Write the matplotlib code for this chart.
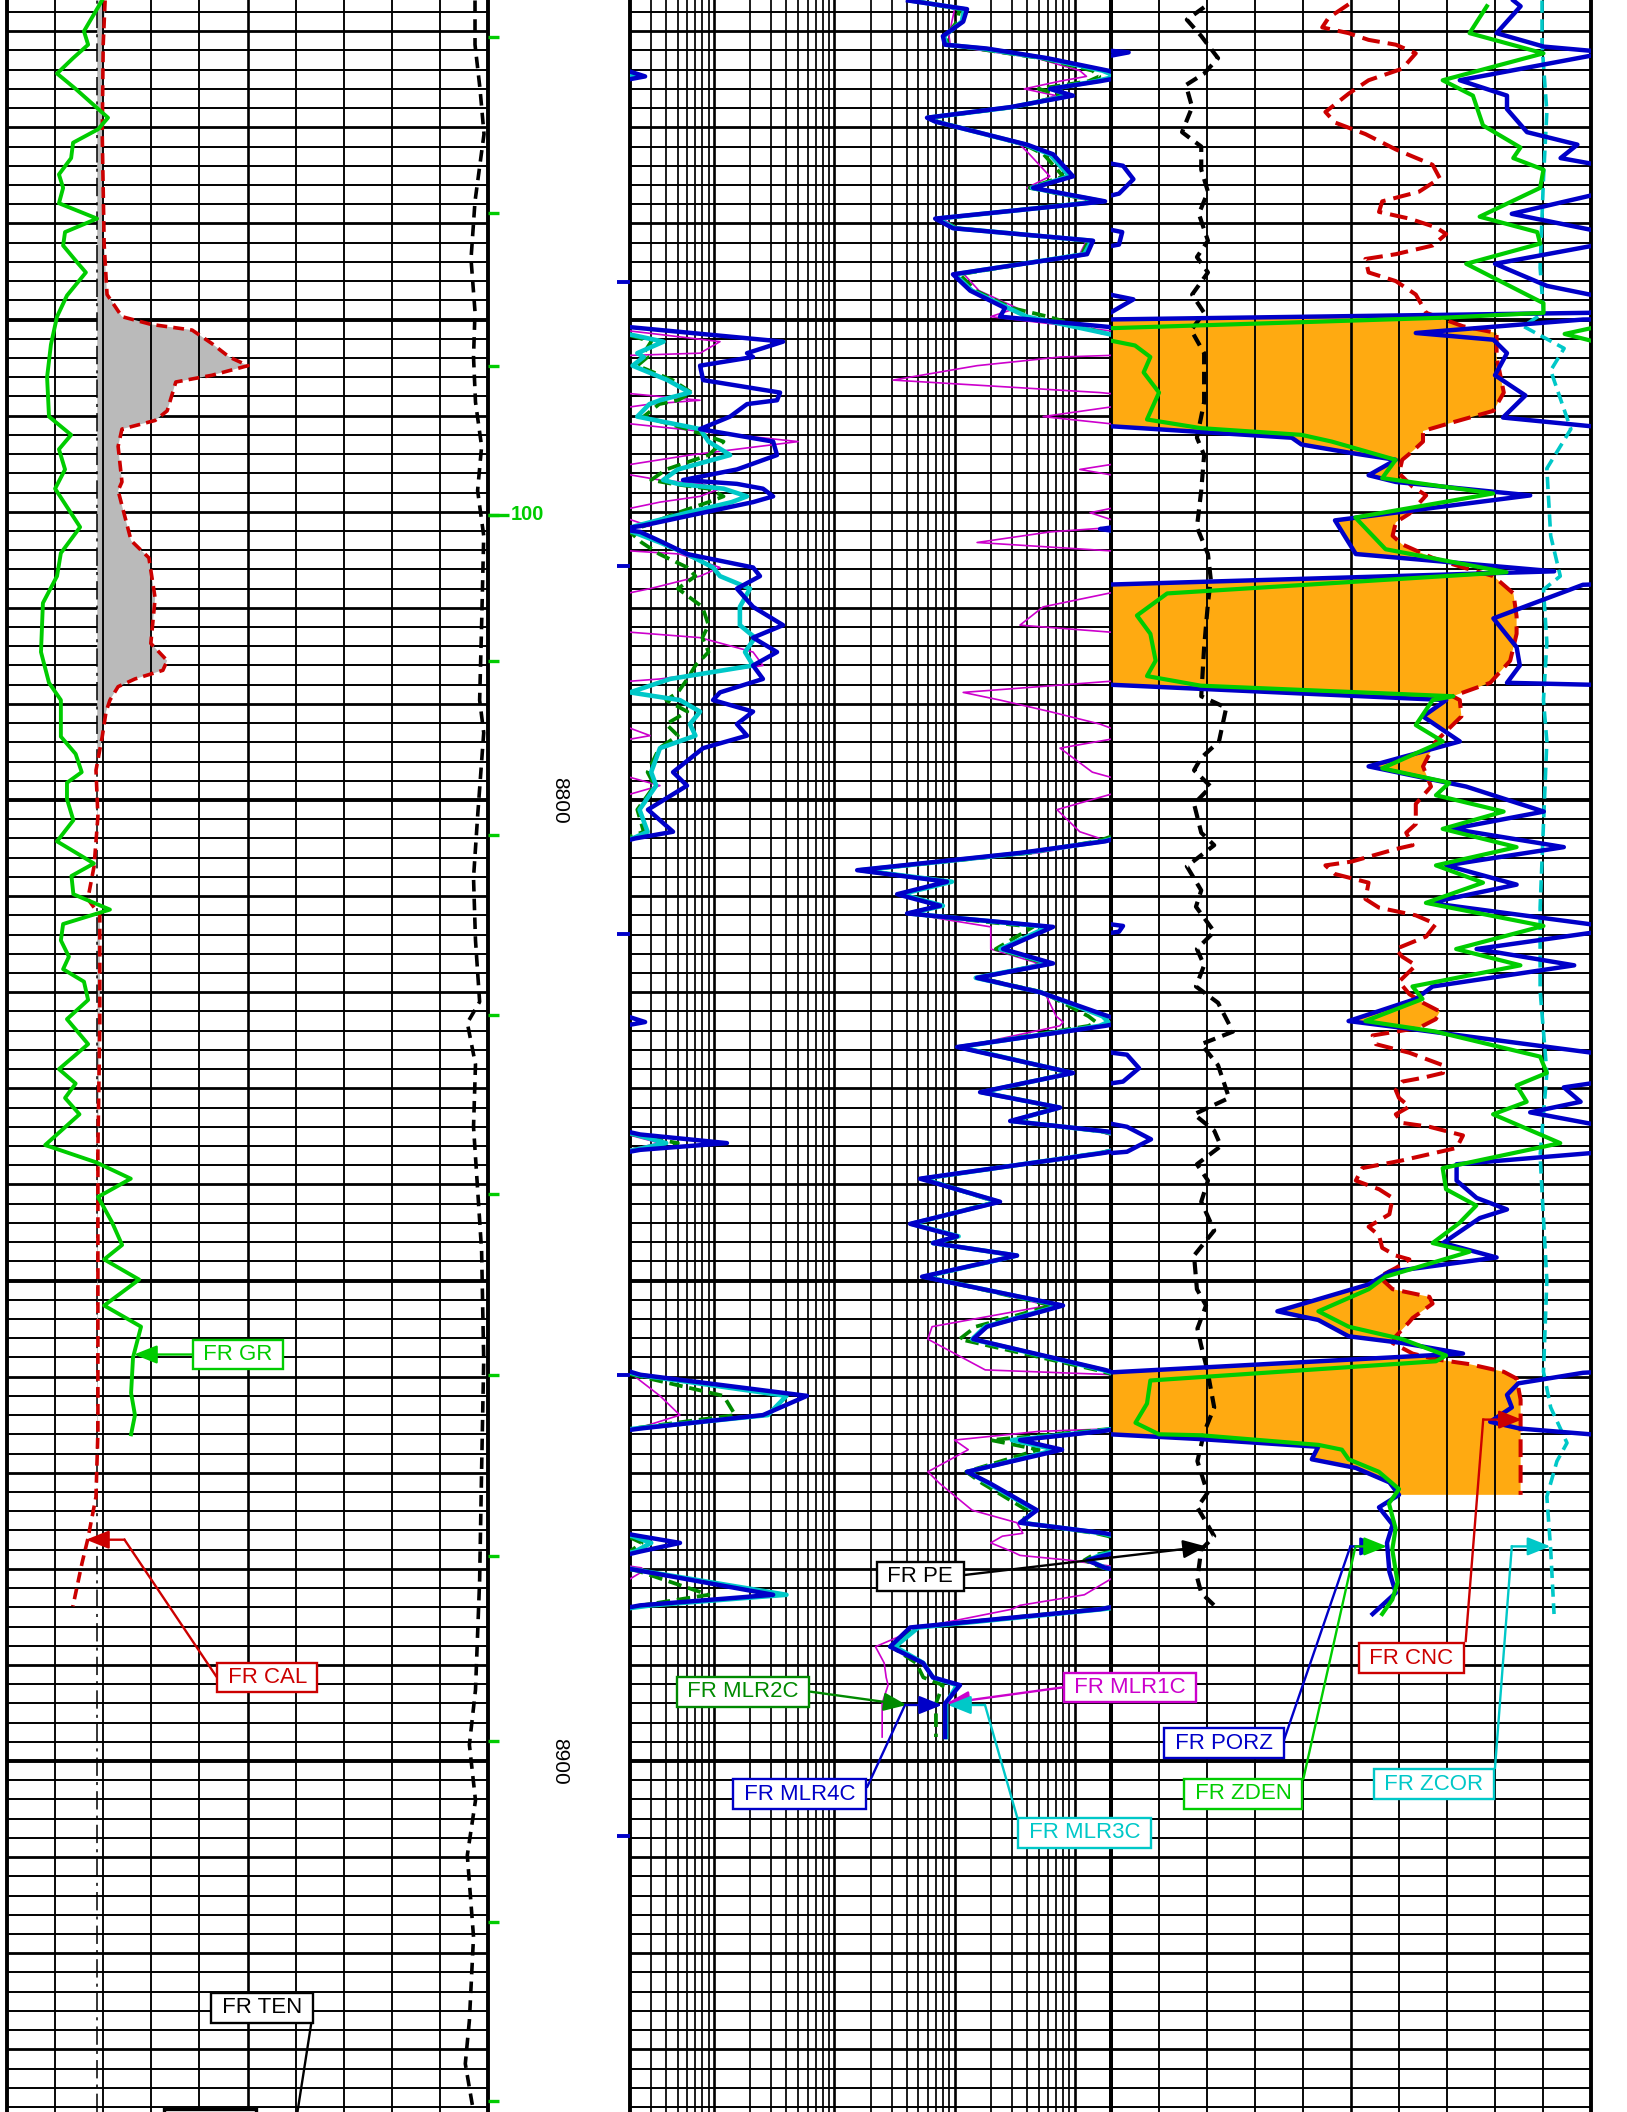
# Well log section: GR / CAL / TEN, micro-resistivity and porosity tracks

import numpy as np
import matplotlib.pyplot as plt

plt.rcParams['font.family'] = ['Liberation Sans', 'DejaVu Sans']

W, H = 1627, 2112               # output size in pixels
TOP, BOT = 8716.75, 8936.52     # depth window (ft)

# ---------------- track 1 ----------------
gr_depth = [8716.8, 8717.5, 8720.0, 8721.4, 8722.8, 8724.4, 8726.0, 8727.9, 8729.0, 8730.2,
            8731.6, 8733.2, 8734.9, 8736.3, 8737.9, 8739.5, 8740.9, 8742.3, 8744.1, 8745.1,
            8747.5, 8749.7, 8752.6, 8756.0, 8760.1, 8762.0, 8763.5, 8765.6, 8767.6, 8771.6,
            8774.3, 8776.7, 8779.5, 8784.6, 8787.8, 8789.6, 8793.4, 8795.2, 8797.1, 8798.2,
            8799.9, 8802.1, 8804.3, 8806.6, 8807.9, 8809.8, 8811.4, 8812.9, 8814.6, 8816.3,
            8817.6, 8818.9, 8820.8, 8822.8, 8825.4, 8828.0, 8829.5, 8831.0, 8832.7, 8835.9,
            8837.7, 8839.4, 8841.3, 8843.9, 8846.3, 8847.8, 8849.9, 8852.6, 8854.8, 8858.0,
            8861.7, 8864.0, 8866.0]
gr = [29.6, 28.4, 24.0, 25.3, 20.6, 15.6, 21.4, 27.8, 31.5, 28.4,
      20.6, 20.0, 16.2, 17.5, 16.2, 28.1, 18.1, 17.5, 22.0, 24.6,
      18.7, 15.6, 13.7, 12.5, 13.1, 20.0, 16.2, 18.1, 15.0, 22.8,
      16.8, 15.6, 11.2, 10.6, 13.1, 16.8, 16.8, 21.4, 23.3, 18.7,
      18.7, 20.7, 15.6, 27.1, 20.1, 20.7, 32.1, 17.5, 16.8, 19.3,
      17.5, 24.0, 25.3, 18.7, 25.3, 16.2, 21.4, 18.1, 22.6, 11.9,
      27.8, 38.6, 28.4, 32.7, 35.9, 30.3, 41.2, 30.3, 41.8, 39.3,
      38.7, 39.9, 38.7]

cal_depth = [8716.8, 8721.4, 8730.7, 8742.2, 8747.4, 8749.7, 8750.5, 8751.1, 8752.5, 8753.9,
             8754.8, 8755.8, 8756.5, 8759.5, 8760.5, 8761.4, 8763.2, 8766.9, 8767.8, 8773.0,
             8774.8, 8779.0, 8783.7, 8785.5, 8786.5, 8787.4, 8788.2, 8789.6, 8790.8, 8793.4,
             8796.9, 8801.7, 8806.9, 8810.3, 8812.0, 8823.2, 8836.2, 8852.0, 8865.7, 8872.5,
             8876.9, 8879.4, 8883.9]
cal = [8.04, 8.00, 7.98, 8.02, 8.08, 8.39, 8.99, 9.85, 10.26, 10.62,
       11.01, 10.26, 9.51, 9.33, 9.08, 8.39, 8.31, 8.39, 8.31, 8.58,
       8.95, 9.08, 8.99, 9.33, 9.24, 8.66, 8.31, 8.14, 8.06, 7.98,
       7.85, 7.89, 7.81, 7.68, 7.93, 7.93, 7.89, 7.89, 7.89, 7.85,
       7.68, 7.56, 7.37]
BIT = 7.875

ten_depth = [8716.8, 8721.4, 8726.0, 8730.7, 8737.7, 8743.7, 8749.2, 8753.9, 8758.6, 8763.2,
             8767.8, 8772.5, 8781.8, 8789.6, 8793.0, 8801.7, 8808.1, 8814.6, 8821.0, 8823.2,
             8827.5, 8834.0, 8840.5, 8846.9, 8858.3, 8869.7, 8881.2, 8892.6, 8898.3, 8904.1,
             8909.8, 8918.3, 8927.0, 8931.5, 8936.5]
ten = [9730, 9730, 9834, 9917, 9730, 9647, 9730, 9699, 9740, 9867,
       9784, 9911, 9867, 9826, 9911, 9784, 9699, 9740, 9826, 9570,
       9740, 9699, 9784, 9867, 9911, 9867, 9826, 9740, 9613, 9740,
       9570, 9699, 9613, 9528, 9699]

# ---------------- track 2 (ohm-m, values above 2000 wrap) ----------------
mlr_depth = [8716.8, 8717.7, 8719.0, 8720.5, 8721.4, 8721.8, 8722.8, 8724.1, 8724.7, 8725.2,
             8726.0, 8726.7, 8727.9, 8729.0, 8729.4, 8731.8, 8732.8, 8735.1, 8736.3, 8737.7,
             8739.5, 8740.5, 8741.8, 8743.2, 8745.3, 8747.0, 8748.8, 8749.7,
             8752.3, 8753.5, 8753.9, 8754.8, 8756.3, 8757.6, 8758.4, 8758.8, 8760.1, 8761.4,
             8762.7, 8764.1, 8765.6, 8766.7, 8767.1, 8767.6, 8768.4, 8769.0, 8770.1, 8771.5,
             8771.8, 8772.1, 8773.2, 8774.4, 8775.8, 8776.7, 8778.0, 8779.9, 8781.8, 8783.1,
             8784.6, 8786.0, 8787.4, 8788.8, 8789.6, 8790.8, 8792.1, 8793.3, 8794.6, 8797.1,
             8798.5, 8801.0, 8803.3, 8804.0, 8804.3,
             8805.5, 8807.3, 8808.5, 8809.8, 8811.0, 8811.8, 8813.2, 8815.5, 8817.0, 8818.5,
             8820.0, 8822.5, 8823.1, 8823.5, 8825.7, 8828.4, 8830.4, 8832.0, 8833.4, 8834.5,
             8834.8, 8835.7, 8836.4, 8836.7,
             8839.4, 8841.8, 8844.1, 8845.4, 8846.1, 8847.4, 8849.6, 8852.6, 8854.8, 8856.1,
             8859.3, 8859.8, 8862.0, 8864.0, 8865.4, 8865.7, 8866.6, 8867.6, 8869.9, 8871.1,
             8873.9, 8875.2, 8876.3, 8876.6, 8877.3, 8878.2, 8878.6, 8879.1, 8879.9, 8880.2,
             8882.7, 8883.8, 8884.2, 8886.1, 8888.1, 8889.8, 8891.3, 8892.1, 8894.0, 8897.5]
mlr4c = [41, 127, 118, 80, 83, 186, 588, 1890, 2670, 1622,
         622, 967, 290, 59, 69, 401, 659, 967, 450, 1785,
         69, 97, 1419, 1265, 97, 135, 263, 239,
         37500, 18800, 21100, 7650, 8110, 35400, 33400, 18800, 13600, 7650,
         31000, 33400, 15500, 5520, 15500, 25500, 31000, 21100, 8110, 2430,
         1622, 2430, 3770, 5960, 21100, 24100, 15500, 21100, 37500, 21100,
         33400, 21100, 25500, 11200, 9810, 21100, 15500, 18800, 8110, 4560,
         5960, 2820, 4560, 2200, 1785,
         350, 15.5, 86.6, 33.3, 75.7, 40.3, 659, 253, 659, 154,
         514, 1890, 2670, 1785, 105, 967, 163, 754, 290, 1890,
         2430, 12800, 2430, 1785,
         51.6, 239, 42.7, 105, 66.2, 331, 53.7, 798, 186, 143,
         1785, 2430, 59300, 25500, 2430, 1622, 350, 783, 127, 197,
         485, 350, 1785, 2430, 5210, 2430, 1785, 1265, 1785, 2430,
         31000, 2430, 1622, 42.7, 29.1, 54.7, 66.2, 111, 83.4, 83.4]
mlr3c = [43, 120, 115, 82, 85, 170, 560, 1700, 2200, 1500,
         640, 900, 300, 60, 70, 390, 620, 900, 440, 1700,
         72, 100, 1380, 1200, 100, 140, 280, 400,
         3800, 2300, 2600, 2100, 4100, 6300, 3550, 2900, 2300, 7650,
         9000, 13600, 5000, 3770, 5000, 12000, 18800, 14000, 6000, 2200,
         1900, 2100, 3550, 5960, 9810, 11200, 19900, 16400, 16400, 21900,
         18100, 21100, 4310, 2000, 5200, 7650, 6300, 7000, 3550, 3000,
         3300, 2400, 2800, 2100, 1700,
         380, 16.5, 95, 36, 80, 42, 600, 240, 620, 150,
         520, 1700, 1900, 1600, 110, 950, 168, 740, 300, 1800,
         2200, 4000, 2200, 1700,
         54, 230, 44, 108, 66, 330, 56, 760, 180, 140,
         1700, 2300, 40000, 28000, 2200, 1500, 300, 700, 130, 190,
         470, 360, 1700, 2100, 3000, 2200, 1600, 1300, 1800, 2500,
         40000, 3000, 1700, 50, 32, 55, 66, 105, 85, 85]
mlr2c = [45, 110, 105, 85, 88, 150, 520, 1400, 1600, 1300,
         500, 800, 310, 62, 72, 380, 550, 800, 420, 1550,
         75, 105, 1300, 1150, 110, 150, 300, 600,
         3000, 2600, 2800, 2300, 4500, 6500, 5000, 3500, 2600, 6000,
         12000, 9000, 4000, 3000, 4500, 9000, 12000, 9000, 5000, 2600,
         2200, 2000, 2500, 3500, 6000, 7000, 5000, 8000, 9000, 8000,
         9000, 7000, 6000, 5000, 4000, 6000, 4000, 5000, 3500, 2800,
         3200, 2300, 2600, 1800, 1500,
         420, 17, 90, 35, 78, 41, 450, 220, 580, 160,
         540, 1300, 1500, 1300, 112, 920, 170, 720, 310, 1700,
         2100, 5000, 2100, 1650,
         55, 220, 45, 105, 68, 320, 58, 650, 150, 110,
         1500, 2100, 12000, 15000, 2100, 1200, 200, 500, 125, 170,
         400, 370, 1500, 1900, 2500, 2000, 1400, 1200, 1700, 2300,
         9000, 2500, 1500, 45, 30, 48, 55, 80, 70, 70]
mlr1c = [48, 100, 95, 90, 92, 130, 480, 1100, 1250, 750,
         380, 700, 330, 65, 75, 350, 420, 620, 400, 1400,
         78, 110, 1250, 1100, 120, 160, 330, 200,
         11200, 7650, 754, 154, 30.8, 1622, 7650, 2940, 545, 5200,
         50000, 6300, 1100, 3550, 7650, 11200, 7650, 3550, 1340, 2940,
         1340, 622, 154, 5200, 11200, 7650, 2940, 545, 350, 7650,
         21100, 25500, 3550, 118, 239, 622, 1622, 2940, 754, 1400,
         3550, 711, 1100, 1622, 1785,
         500, 19, 85, 34, 76, 41, 200, 200, 500, 170,
         560, 700, 800, 750, 115, 900, 175, 700, 320, 1600,
         1900, 3550, 1900, 1600,
         56, 210, 46, 100, 70, 300, 60, 600, 65, 60,
         180, 2100, 3550, 5200, 2300, 500, 100, 130, 60, 75,
         140, 330, 370, 250, 200, 300, 350, 900, 2500, 2600,
         1200, 350, 300, 52, 22, 26, 27, 28, 25, 25]

# ---------------- track 3 ----------------
cnc_depth = [8717.2, 8718.6, 8719.6, 8720.2, 8720.9, 8721.4, 8722.3, 8723.9, 8725.1, 8726.5,
             8728.4, 8729.5, 8730.7, 8732.3, 8733.9, 8735.3, 8736.7, 8737.7, 8738.8, 8739.5,
             8740.4, 8741.1, 8742.3, 8743.2, 8743.7, 8745.1, 8746.0, 8747.4, 8749.3, 8750.7,
             8751.4, 8753.9, 8757.6, 8759.5, 8760.7, 8761.6, 8762.7, 8763.7, 8764.6, 8766.0,
             8767.4, 8768.3, 8770.2, 8771.1, 8772.5, 8773.4, 8774.8, 8775.8, 8776.7, 8778.5,
             8780.9, 8782.7, 8785.5, 8787.8, 8789.2, 8789.6, 8791.3, 8793.9, 8796.5, 8798.6,
             8800.4, 8802.5, 8803.4, 8804.7, 8805.1, 8806.4, 8806.8, 8807.7, 8808.6, 8810.3,
             8811.2, 8812.0, 8812.9, 8814.2, 8815.5, 8816.3, 8817.2, 8818.9, 8820.2, 8821.1,
             8822.0, 8822.8, 8823.7, 8824.5, 8825.4, 8826.3, 8827.6, 8828.4, 8828.9, 8829.3,
             8830.2, 8831.0, 8831.9, 8832.7, 8833.6, 8834.0, 8834.9, 8836.2, 8836.6, 8837.5,
             8838.3, 8839.6, 8840.5, 8841.4, 8843.1, 8844.4, 8845.3, 8846.6, 8847.4, 8847.8,
             8848.7, 8849.6, 8850.9, 8851.7, 8852.4, 8853.9, 8854.3, 8855.8, 8856.5, 8857.6,
             8858.2, 8858.7, 8859.5, 8860.2, 8862.4, 8865.4, 8868.8, 8872.3]
cnc = [0.153, 0.178, 0.186, 0.153, 0.128, 0.094, 0.069, 0.086, 0.128, 0.153,
       0.182, 0.170, 0.132, 0.094, 0.048, 0.039, 0.065, 0.111, 0.115, 0.077,
       0.044, 0.031, 0.048, 0.094, 0.132, 0.128, 0.094, 0.069, 0.056, 0.010,
       -0.032, -0.032, -0.041, -0.028, 0.023, 0.060, 0.060, 0.073, 0.086, 0.090,
       0.073, 0.056, 0.077, 0.094, 0.098, 0.086, 0.048, 0.010, -0.028, -0.053,
       -0.057, -0.057, -0.049, -0.024, 0.023, 0.014, 0.012, 0.044, 0.060, 0.050,
       0.069, 0.069, 0.081, 0.073, 0.094, 0.149, 0.182, 0.170, 0.128, 0.132,
       0.115, 0.069, 0.044, 0.056, 0.094, 0.086, 0.069, 0.090, 0.077, 0.060,
       0.039, 0.044, 0.065, 0.123, 0.119, 0.077, 0.035, 0.035, 0.060, 0.086,
       0.094, 0.090, 0.077, 0.094, 0.086, 0.052, 0.010, 0.018, 0.039, 0.086,
       0.136, 0.144, 0.115, 0.098, 0.102, 0.128, 0.115, 0.111, 0.094, 0.077,
       0.094, 0.115, 0.098, 0.052, 0.048, 0.073, 0.077, 0.094, 0.098, 0.073,
       0.044, 0.002, -0.041, -0.057, -0.062, -0.062, -0.062, -0.062]

porz_depth = [8716.8, 8717.4, 8720.2, 8721.6, 8722.2, 8725.1, 8726.7, 8728.1, 8730.5, 8731.8,
              8733.2, 8734.0, 8735.4, 8736.9, 8739.0, 8740.9, 8742.2, 8744.2, 8746.5, 8747.9,
              8749.0, 8749.3, 8750.0, 8751.4, 8752.1, 8753.5, 8755.8, 8757.9, 8760.2, 8761.1,
              8762.3, 8763.0, 8763.9, 8764.6, 8766.2, 8766.9, 8768.3, 8770.9, 8774.4, 8776.2,
              8777.6, 8781.1, 8784.1, 8786.0, 8787.8, 8788.0, 8789.6, 8791.3, 8793.9, 8796.5,
              8798.6, 8801.2, 8803.0, 8804.9, 8806.8, 8808.8, 8810.7, 8813.1, 8813.7, 8815.5,
              8817.2, 8819.4, 8820.7, 8823.0, 8823.7, 8826.5, 8827.9, 8829.3, 8829.9, 8831.4,
              8832.5, 8834.0, 8835.3, 8836.6, 8837.9, 8839.6, 8841.4, 8842.6, 8843.5, 8846.1,
              8847.6, 8849.1, 8850.4, 8853.2, 8854.1, 8855.8, 8856.5, 8857.6, 8859.6, 8860.7,
              8861.9, 8863.2, 8864.7, 8865.4, 8866.0, 8866.5, 8867.3, 8868.6, 8869.5, 8871.0,
              8872.3, 8873.6, 8875.4, 8877.3, 8880.3, 8882.5, 8884.7]
porz = [-0.053, -0.062, -0.032, -0.091, -0.172, 0.014, -0.045, -0.045, -0.070, -0.133,
        -0.112, -0.165, -0.178, -0.160, -0.051, -0.164, -0.160, -0.030, -0.095, -0.178,
        -0.155, -0.149, 0.46, 0.669, 0.572, 0.555, 0.570, 0.532, 0.560, 0.451,
        0.224, 0.212, 0.149, 0.094, 0.128, 0.094, -0.074, 0.170, 0.144, -0.104,
        0.46, 0.572, 0.543, 0.539, 0.555, 0.451, 0.031, 0.060, 0.014, 0.128,
        0.006, -0.091, 0.023, -0.116, 0.031, -0.057, 0.052, -0.165, -0.160, -0.007,
        -0.129, 0.048, 0.069, 0.153, 0.086, -0.170, -0.185, -0.165, -0.116, -0.137,
        -0.074, -0.170, -0.200, -0.170, 0.018, 0.018, -0.007, -0.045, -0.011, 0.035,
        -0.032, 0.102, 0.128, 0.242, 0.191, 0.153, 0.086, 0.010, 0.46, 0.541,
        0.555, 0.549, 0.576, 0.539, 0.451, 0.338, 0.191, 0.199, 0.144, 0.102,
        0.090, 0.115, 0.098, 0.105, 0.102, 0.094, 0.123]

zden_depth = [8717.4, 8720.2, 8722.3, 8725.1, 8726.7, 8729.8, 8732.1, 8733.2, 8734.4, 8736.3,
              8739.3, 8740.9, 8742.1, 8744.2, 8748.3, 8749.3, 8749.8, 8750.9, 8751.5, 8752.2,
              8752.7, 8753.9, 8755.5, 8757.6, 8760.4, 8761.3, 8762.0, 8762.7, 8764.6, 8766.5,
              8768.1, 8770.6, 8773.9, 8776.3, 8778.5, 8780.8, 8782.7, 8785.5, 8787.1, 8788.1,
              8789.2, 8789.6, 8792.2, 8793.9, 8796.7, 8798.2, 8799.5, 8801.2, 8803.0, 8804.9,
              8806.8, 8808.6, 8810.7, 8813.1, 8815.5, 8817.2, 8819.4, 8820.7, 8823.0, 8824.1,
              8826.7, 8828.4, 8829.7, 8831.4, 8832.7, 8835.7, 8838.3, 8840.5, 8842.2, 8844.0,
              8846.1, 8847.0, 8849.6, 8850.9, 8853.2, 8854.8, 8856.1, 8857.8, 8858.4, 8860.4,
              8862.8, 8864.8, 8866.0, 8866.1, 8867.1, 8867.6, 8868.6, 8869.9, 8871.7, 8873.2,
              8875.8, 8878.0, 8881.4, 8883.2, 8884.7]
zden = [2.733, 2.697, 2.851, 2.641, 2.704, 2.725, 2.803, 2.788, 2.851, 2.844,
        2.718, 2.838, 2.844, 2.690, 2.851, 2.851, 2.648, 1.95, 1.895, 1.95,
        2.00, 2.032, 2.018, 2.050, 2.025, 2.137, 2.347, 2.410, 2.543, 2.515,
        2.746, 2.459, 2.522, 2.774, 2.067, 2.004, 2.032, 2.043, 2.025, 2.137,
        2.663, 2.620, 2.585, 2.641, 2.515, 2.655, 2.627, 2.768, 2.641, 2.795,
        2.627, 2.725, 2.606, 2.851, 2.669, 2.803, 2.578, 2.599, 2.480, 2.627,
        2.844, 2.858, 2.795, 2.816, 2.746, 2.886, 2.641, 2.648, 2.711, 2.676,
        2.620, 2.697, 2.522, 2.487, 2.382, 2.445, 2.557, 2.648, 2.627, 2.032,
        2.025, 2.001, 2.050, 2.137, 2.382, 2.431, 2.445, 2.508, 2.550, 2.529,
        2.543, 2.536, 2.547, 2.536, 2.515]

pe_depth = [8717.5, 8718.8, 8720.5, 8722.8, 8724.4, 8725.6, 8727.9, 8730.5, 8732.0, 8734.4,
            8736.7, 8739.0, 8741.8, 8743.5, 8745.1, 8747.4, 8749.3, 8751.1, 8753.5, 8758.6,
            8762.3, 8764.1, 8767.8, 8771.6, 8774.4, 8777.1, 8779.5, 8784.1, 8789.2, 8790.4,
            8793.9, 8795.6, 8796.9, 8798.6, 8800.4, 8803.4, 8804.7, 8806.9, 8809.4, 8811.1,
            8813.7, 8815.5, 8817.2, 8819.4, 8821.1, 8824.1, 8825.4, 8827.6, 8831.0, 8832.7,
            8834.4, 8836.0, 8837.9, 8839.6, 8841.8, 8844.8, 8847.4, 8850.9, 8852.6, 8855.0,
            8856.8, 8859.4, 8863.2, 8865.8, 8868.8, 8872.1, 8873.6, 8876.6, 8878.0, 8881.0,
            8882.5, 8884.0]
pe = [1.94, 1.58, 1.88, 2.23, 1.94, 1.56, 1.69, 1.48, 1.88, 1.88,
      2.02, 1.83, 2.02, 1.79, 2.02, 1.69, 1.94, 1.67, 1.94, 1.94,
      1.79, 1.94, 1.88, 1.79, 2.02, 2.08, 2.02, 1.94, 1.88, 2.40,
      2.25, 1.88, 1.73, 2.08, 1.73, 1.88, 2.15, 1.58, 1.88, 1.77,
      2.15, 1.79, 1.94, 1.77, 2.23, 2.54, 1.88, 2.23, 2.46, 1.73,
      2.15, 2.29, 1.79, 2.02, 1.88, 2.15, 1.73, 1.79, 1.98, 1.80,
      1.88, 2.01, 2.15, 1.94, 1.80, 2.01, 1.80, 2.15, 1.88, 1.80,
      1.88, 2.19]

zcor_depth = [8716.8, 8721.4, 8728.4, 8735.3, 8744.6, 8749.3, 8750.7, 8753.0, 8755.3, 8761.4,
              8765.5, 8772.5, 8776.7, 8778.1, 8783.6, 8789.6, 8793.9, 8802.5, 8811.2, 8819.8,
              8828.4, 8837.0, 8850.0, 8859.5, 8863.2, 8866.9, 8868.8, 8872.5, 8878.0, 8884.7]
zcor = [0.148, 0.148, 0.158, 0.151, 0.144, 0.151, 0.109, 0.194, 0.166, 0.208,
        0.158, 0.166, 0.186, 0.151, 0.158, 0.151, 0.158, 0.151, 0.144, 0.144,
        0.158, 0.144, 0.158, 0.151, 0.166, 0.200, 0.179, 0.158, 0.166, 0.173]

# depth column marks
time_ticks = [8720.6, 8738.9, 8754.8, 8770.3, 8785.5, 8803.6, 8822.4, 8841.0, 8859.8,
              8878.7, 8897.9, 8916.8, 8935.4]
time_label = (8770.3, '100')
blue_ticks = [8746.1, 8775.6, 8813.9, 8859.8, 8907.8]
depth_labels = [8800, 8900]

BLUE, CYAN, DGREEN, GREEN = '#0000c8', '#00c8c8', '#008a00', '#00cc00'
MAGENTA, RED, ORANGE, GREY = '#cc00cc', '#cc0000', '#ffaa11', '#bababa'

fig = plt.figure(figsize=(W / 100, H / 100), dpi=100)
fig.patch.set_facecolor('white')


def span(x0, x1):
    return [x0 / W, 0.0, (x1 - x0) / W, 1.0]


def layer(box, z, lim, log=False):
    a = fig.add_axes(box)
    a.set_zorder(z)
    a.patch.set_visible(False)
    if log:
        a.set_xscale('log')
    a.set_xlim(*lim)
    a.set_ylim(BOT, TOP)
    a.axis('off')
    return a


def hgrid(box):
    a = layer(box, 0, (0, 1))
    for d in range(8718, 8937, 2):
        lw = 2.8 if d % 50 == 0 else 2.0 if d % 10 == 0 else 1.4
        a.axhline(d, color='black', lw=lw)


def vgrid(a, xs, heavy=(), lw0=1.35):
    xs = list(xs)
    for i, x in enumerate(xs):
        edge = i in (0, len(xs) - 1)
        lw = 2.8 if edge else 1.9 if i in heavy else lw0
        a.axvline(x, color='black', lw=lw, zorder=2, clip_on=not edge)


def wrap(depth, vals, lo, hi, log=False):
    # fold values outside [lo, hi] back into the track, break the line at the edges
    d = np.asarray(depth, float)
    t = np.asarray(vals, float)
    if log:
        t, lo, hi = np.log10(t), np.log10(lo), np.log10(hi)
    w = hi - lo
    k = np.floor((t - lo) / w)
    dd, tt = [d[0]], [t[0] - k[0] * w]
    for i in range(1, len(t)):
        if k[i] != k[i - 1]:
            edge = lo + w * max(k[i], k[i - 1])
            f = (edge - t[i - 1]) / (t[i] - t[i - 1])
            dc = d[i - 1] + f * (d[i] - d[i - 1])
            ends = (hi, lo) if k[i] > k[i - 1] else (lo, hi)
            dd += [dc, np.nan, dc]
            tt += [ends[0], np.nan, ends[1]]
        dd.append(d[i])
        tt.append(t[i] - k[i] * w)
    tt = np.array(tt)
    if log:
        tt = 10 ** tt
    return tt, np.array(dd)


T1, TD, T2, T3 = span(7, 488), span(488, 630), span(630, 1111), span(1111, 1591)
for box in (T1, T2, T3):
    hgrid(box)

# ---- track 1 ----
a = layer(T1, 1, (6, 16))
cal_arr = np.array(cal)
a.fill_betweenx(cal_depth, BIT, cal_arr, where=cal_arr > BIT, interpolate=True,
                color=GREY, lw=0, zorder=1)
vgrid(a, range(6, 17), heavy=[5])

a = layer(T1, 2, (6, 16))
a.axvline(BIT, color='black', lw=1.1, ls=(0, (12, 4, 2, 4)))
a.plot(cal, cal_depth, color=RED, lw=2.6, ls=(0, (3.0, 1.7)))
a = layer(T1, 2, (0, 150))
a.plot(gr, gr_depth, color=GREEN, lw=2.8, solid_joinstyle='round')
a = layer(T1, 2, (0, 10000))
a.plot(ten, ten_depth, color='black', lw=2.6, ls=(0, (3.2, 2.0)))

# ---- track 2 ----
res_lines = sorted({round(m * 10.0 ** e, 6) for e in range(-1, 4) for m in range(1, 10)
                    if 0.2 <= m * 10.0 ** e <= 2000})
a = layer(T2, 1, (0.2, 2000), log=True)
vgrid(a, res_lines, heavy=[i for i, v in enumerate(res_lines) if v in (1, 10, 100, 1000)],
      lw0=1.25)

a = layer(T2, 2, (0.2, 2000), log=True)
for vals, kw in [(mlr1c, dict(color=MAGENTA, lw=1.2)),
                 (mlr2c, dict(color=DGREEN, lw=2.7, ls=(0, (3.6, 1.8)))),
                 (mlr3c, dict(color=CYAN, lw=3.3)),
                 (mlr4c, dict(color=BLUE, lw=3.2))]:
    x, y = wrap(mlr_depth, vals, 0.2, 2000, log=True)
    a.plot(x, y, solid_joinstyle='round', **kw)

# ---- track 3 ----
a = layer(T3, 1, (0.45, -0.15))
fd = np.linspace(cnc_depth[0], cnc_depth[-1], 4000)
ci = np.interp(fd, cnc_depth, cnc)
pi = np.interp(fd, porz_depth, porz)
a.fill_betweenx(fd, ci, np.minimum(pi, 0.45), where=pi > ci, interpolate=True,
                color=ORANGE, lw=0, zorder=1)
vgrid(a, np.linspace(0.45, -0.15, 11), heavy=[5])

a = layer(T3, 2, (0, 10))
a.plot(pe, pe_depth, color='black', lw=3.0, ls=(0, (3.0, 1.8)))
a = layer(T3, 2, (-0.75, 0.25))
a.plot(zcor, zcor_depth, color=CYAN, lw=2.6, ls=(0, (3.4, 1.8)))
a = layer(T3, 2, (0.45, -0.15))
a.plot(cnc, cnc_depth, color=RED, lw=2.9, ls=(0, (4.4, 2.0)))
x, y = wrap(porz_depth, porz, -0.15, 0.45)
a.plot(x, y, color=BLUE, lw=3.2, solid_joinstyle='round')
a = layer(T3, 2, (1.95, 2.95))
x, y = wrap(zden_depth, zden, 1.95, 2.95)
a.plot(x, y, color=GREEN, lw=3.0, solid_joinstyle='round')

# ---- depth column ----
a = layer(TD, 2, (0, 1))
a.hlines(time_ticks, 0, 0.08, color=GREEN, lw=2.4)
a.hlines([time_label[0]], 0, 0.145, color=GREEN, lw=2.4)
a.text(0.275, time_label[0], time_label[1], color=GREEN, fontsize=14.5,
       fontweight='bold', ha='center', va='center')
a.hlines(blue_ticks, 0.905, 1.0, color=BLUE, lw=2.8)
for d in depth_labels:
    a.text(0.507, d, str(d), rotation=270, fontsize=15, ha='center', va='center')

# ---- curve labels (pixel coordinates) ----
ov = fig.add_axes([0, 0, 1, 1])
ov.set_zorder(10)
ov.patch.set_visible(False)
ov.set_xlim(0, W)
ov.set_ylim(H, 0)
ov.axis('off')


def label(text, c, color, path=(), tip=None):
    ov.text(c[0], c[1], ' ' + text + ' ', ha='center', va='center', color=color,
            fontsize=16, zorder=5,
            bbox=dict(boxstyle='square,pad=0.2', fc='white', ec=color, lw=1.7))
    if len(path) > 1:
        ov.plot([p[0] for p in path], [p[1] for p in path], color=color, lw=1.7)
    if tip is not None:
        ov.annotate('', xy=tip, xytext=path[-1],
                    arrowprops=dict(arrowstyle='-|>,head_length=0.7,head_width=0.28',
                                    color=color, lw=1.7, shrinkA=0, shrinkB=0,
                                    mutation_scale=20))


label('FR GR', (237.7, 1354.5), GREEN, [(192, 1354.5)], (134, 1354.5))
label('FR CAL', (267, 1677.5), RED, [(216, 1676), (124.5, 1539.7)], (86, 1539.7))
label('FR TEN', (262, 2007.7), 'black', [(311, 2025), (297, 2115)])
ov.add_patch(plt.Rectangle((164, 2109), 92, 40, fc='white', ec='black', lw=2.4))
label('FR PE', (920.3, 1576.5), 'black', [(964.5, 1575)], (1206, 1546.4))
label('FR MLR2C', (742.8, 1691.6), DGREEN, [(810.7, 1691.7)], (906.7, 1705))
label('FR MLR1C', (1130, 1687.5), MAGENTA, [(1063.3, 1687.3)], (946.7, 1703.3))
label('FR MLR4C', (799.5, 1794.2), BLUE, [(867.3, 1786.7), (905, 1705)], (942, 1705))
label('FR MLR3C', (1084.5, 1832.6), CYAN, [(1017, 1816.7), (985, 1705)], (948, 1705))
label('FR PORZ', (1224, 1743.2), BLUE, [(1284.2, 1739.3), (1350.4, 1546.4)], (1383, 1546.4))
label('FR ZDEN', (1243.4, 1793.6), GREEN, [(1303.4, 1778.6), (1355.5, 1546.4)], (1387, 1546.4))
label('FR CNC', (1411.4, 1658.4), RED, [(1465.7, 1641), (1483.2, 1419.6)], (1521.8, 1419.6))
label('FR ZCOR', (1434, 1784), CYAN, [(1495, 1767.9), (1511.8, 1546.4)], (1550.4, 1546.4))

fig.savefig('out.png', dpi=100, facecolor='white')
